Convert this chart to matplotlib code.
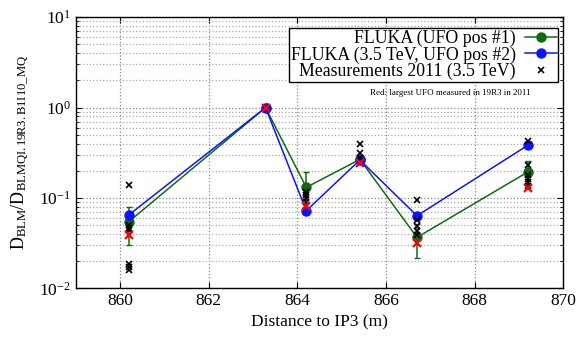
import matplotlib
matplotlib.use("Agg")
import matplotlib.pyplot as plt
from matplotlib.lines import Line2D
from matplotlib.ticker import LogLocator, NullFormatter

plt.rcParams["font.family"] = ["Liberation Serif", "DejaVu Serif"]
plt.rcParams["mathtext.fontset"] = "custom"
plt.rcParams["mathtext.rm"] = "Liberation Serif"
plt.rcParams["mathtext.it"] = "Liberation Serif:italic"

# positions of the BLMs (m from IP3)
pos = [860.19, 863.28, 864.20, 865.41, 866.70, 869.21]

# FLUKA, UFO pos #1 (with errors)
fluka1 = [0.0545, 1.0, 0.131, 0.267, 0.0366, 0.195]
fluka1_err = [0.024, 0.0, 0.064, 0.03, 0.015, 0.063]

# FLUKA 3.5 TeV, UFO pos #2
fluka2 = [0.0647, 1.0, 0.0722, 0.263, 0.0635, 0.385]

# measurements 2011 (several UFOs per BLM)
meas_x = [860.19] * 7 + [863.28] * 2 + [864.20] * 4 + [865.41] * 3 + [866.70] * 5 + [869.21] * 6
meas_y = [0.139, 0.050, 0.046, 0.044, 0.0187, 0.0172, 0.0158,
          1.0, 1.0,
          0.117, 0.108, 0.099, 0.091,
          0.392, 0.311, 0.28,
          0.0948, 0.0569, 0.0489, 0.0434, 0.039,
          0.43, 0.23, 0.180, 0.164, 0.151, 0.135]

# largest UFO measured in 19R3
red_y = [0.0388, 1.0, 0.0813, 0.242, 0.0314, 0.128]

green = "#106b10"
blue = "#0a14ff"

fig = plt.figure(figsize=(5.8, 3.38), dpi=100)
ax = fig.add_axes([0.131, 0.147, 0.84, 0.802])

ax.errorbar(pos, fluka1, yerr=fluka1_err, color=green, marker="o", ms=6.5,
            lw=1.1, capsize=2.5, elinewidth=1.1, zorder=3)
ax.plot(pos, fluka2, color=blue, marker="o", ms=6.5, lw=1.1, zorder=4)
ax.plot(meas_x, meas_y, ls="none", marker="x", color="black", ms=5, mew=1.2, zorder=5)
ax.plot(pos, red_y, ls="none", marker="x", color="red", ms=5.5, mew=1.6, zorder=6)

ax.set_yscale("log")
ax.set_xlim(859, 870)
ax.set_ylim(0.01, 10)
ax.set_xticks([860, 862, 864, 866, 868, 870])
ax.yaxis.set_minor_locator(LogLocator(base=10, subs=range(2, 10)))
ax.yaxis.set_minor_formatter(NullFormatter())

ax.grid(True, which="major", ls=":", color="#888888", lw=0.9)
ax.grid(True, which="minor", axis="y", ls=":", color="#aaaaaa", lw=0.9)
ax.tick_params(which="both", direction="in", top=True, right=True, labelsize=12.5)
ax.tick_params(which="major", length=4)
ax.tick_params(which="minor", length=2)
for s in ax.spines.values():
    s.set_linewidth(1.0)

ax.set_xlabel("Distance to IP3 (m)", fontsize=12.5)
ax.set_ylabel(r"$\mathrm{D_{BLM}/D_{BLMQI.19R3.B1I10\_MQ}}$", fontsize=13, labelpad=6)

handles = [
    Line2D([], [], color=green, marker="o", ms=6.5, lw=1.1),
    Line2D([], [], color=blue, marker="o", ms=6.5, lw=1.1),
    Line2D([], [], color="black", marker="x", ms=5, mew=1.2, ls="none"),
]
labels = ["FLUKA (UFO pos #1)", "FLUKA (3.5 TeV, UFO pos #2)", "Measurements 2011 (3.5 TeV)"]
leg = ax.legend(handles, labels, loc="upper right", markerfirst=False, fontsize=12.8,
                fancybox=False, edgecolor="black", framealpha=1, handlelength=1.8,
                borderpad=0.1, labelspacing=-0.05, handletextpad=0.5, borderaxespad=0,
                bbox_to_anchor=(0.99, 0.96))
leg.get_frame().set_linewidth(1.0)

ax.text(0.932, 0.722, "Red: largest UFO measured in 19R3 in 2011", transform=ax.transAxes,
        ha="right", va="center", fontsize=6.5)

fig.savefig("out.png", dpi=100)
